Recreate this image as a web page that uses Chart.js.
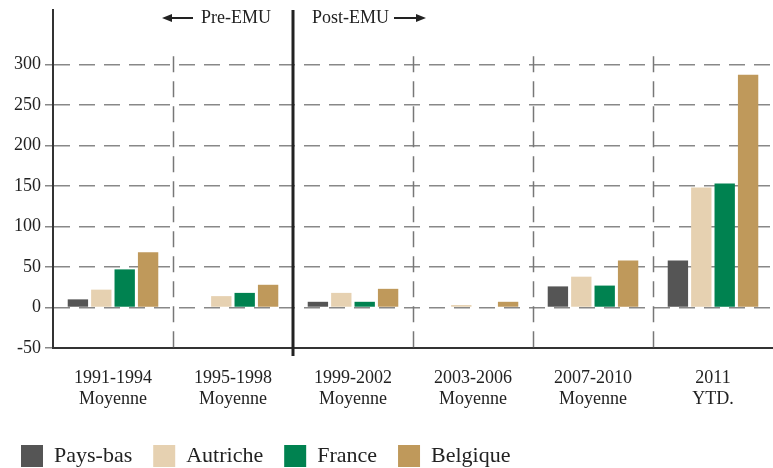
<!DOCTYPE html>
<html lang="fr">
<head>
  <meta charset="UTF-8">
  <title>Pre-EMU / Post-EMU</title>
  <style>
    html, body { margin: 0; padding: 0; background: #fff; }
    #wrap { width: 773px; height: 468px; }
  </style>
</head>
<body>
  <div id="wrap"><canvas id="grafico"></canvas></div>

  <script src="https://cdn.jsdelivr.net/npm/chart.js"></script>
  <script>
    const periodes = [
      ["1991-1994", "Moyenne"],
      ["1995-1998", "Moyenne"],
      ["1999-2002", "Moyenne"],
      ["2003-2006", "Moyenne"],
      ["2007-2010", "Moyenne"],
      ["2011", "YTD."]
    ];
    const paysBas  = [10, 0, 7, 0, 26, 58];
    const autriche = [22, 14, 18, 3, 38, 148];
    const france   = [47, 18, 7, 0, 27, 153];
    const belgique = [68, 28, 23, 7, 58, 287];
    const yTicks = [-50, 0, 50, 100, 150, 200, 250, 300];

    const serif = "'Liberation Serif', 'DejaVu Serif', serif";
    const ink = "#222";

    // lignes verticales + annotations Pre/Post EMU
    const emuPlugin = {
      id: "emu",
      afterDatasetsDraw(chart) {
        const ctx = chart.ctx;
        const x = chart.scales.x, y = chart.scales.y;
        const top = y.getPixelForValue(300) - 8;
        const bottom = chart.chartArea.bottom + 8;
        ctx.save();
        ctx.strokeStyle = "#777";
        ctx.lineWidth = 1.5;
        ctx.setLineDash([16, 9]);
        for (let i = 0; i < periodes.length - 1; i++) {
          if (i === 1) continue;
          const px = Math.round(x.getPixelForValue(i + 0.5)) + 0.5;
          ctx.beginPath();
          ctx.moveTo(px, top);
          ctx.lineTo(px, bottom);
          ctx.stroke();
        }
        ctx.setLineDash([]);
        // ligne EMU
        const sep = x.getPixelForValue(1.5);
        ctx.strokeStyle = ink;
        ctx.lineWidth = 3;
        ctx.beginPath();
        ctx.moveTo(sep, chart.chartArea.top);
        ctx.lineTo(sep, bottom);
        ctx.stroke();

        ctx.font = "18px " + serif;
        ctx.fillStyle = ink;
        ctx.textBaseline = "middle";
        const ty = chart.chartArea.top + 8;
        ctx.textAlign = "right";
        ctx.fillText("Pre-EMU", sep - 22, ty);
        const w1 = ctx.measureText("Pre-EMU").width;
        const a1 = sep - 22 - w1 - 8;
        ctx.lineWidth = 2;
        ctx.beginPath(); ctx.moveTo(a1, ty); ctx.lineTo(a1 - 24, ty); ctx.stroke();
        ctx.beginPath(); ctx.moveTo(a1 - 31, ty); ctx.lineTo(a1 - 21, ty - 4); ctx.lineTo(a1 - 21, ty + 4); ctx.closePath(); ctx.fill();

        ctx.textAlign = "left";
        ctx.fillText("Post-EMU", sep + 19, ty);
        const w2 = ctx.measureText("Post-EMU").width;
        const a2 = sep + 19 + w2 + 5;
        ctx.beginPath(); ctx.moveTo(a2, ty); ctx.lineTo(a2 + 25, ty); ctx.stroke();
        ctx.beginPath(); ctx.moveTo(a2 + 32, ty); ctx.lineTo(a2 + 22, ty - 4); ctx.lineTo(a2 + 22, ty + 4); ctx.closePath(); ctx.fill();
        ctx.restore();
      }
    };

    const lienzo = document.getElementById("grafico");
    new Chart(lienzo, {
      type: "bar",
      data: {
        labels: periodes,
        datasets: [
          { label: "Pays-bas", data: paysBas, backgroundColor: "#555555" },
          { label: "Autriche", data: autriche, backgroundColor: "#e6d1b1" },
          { label: "France", data: france, backgroundColor: "#008250" },
          { label: "Belgique", data: belgique, backgroundColor: "#bf995b" }
        ]
      },
      options: {
        responsive: true,
        maintainAspectRatio: false,
        animation: false,
        categoryPercentage: 0.78,
        barPercentage: 0.87,
        layout: { padding: { top: 10, right: 0, left: 0, bottom: -9 } },
        plugins: {
          tooltip: { enabled: false },
          legend: {
            position: "bottom",
            align: "start",
            labels: {
              boxWidth: 22,
              boxHeight: 22,
              padding: 21,
              color: ink,
              font: { family: serif, size: 22 }
            }
          }
        },
        scales: {
          x: {
            grid: { display: false },
            border: { display: true, color: "#333", width: 2 },
            ticks: { color: ink, font: { family: serif, size: 18 }, padding: 11, maxRotation: 0 },
            afterFit: s => { s.height = 76; }
          },
          y: {
            min: -50,
            max: 367,
            afterBuildTicks: s => { s.ticks = yTicks.map(v => ({ value: v })); },
            grid: { color: "#888", lineWidth: 1.5, tickLength: 8, tickColor: "#888" },
            border: { display: true, color: "#333", width: 2, dash: [16, 9] },
            ticks: { color: ink, font: { family: serif, size: 18 }, padding: 4 },
            afterFit: s => { s.width = 53; s.paddingTop = 0; }
          }
        }
      },
      plugins: [emuPlugin]
    });
  </script>
</body>
</html>
